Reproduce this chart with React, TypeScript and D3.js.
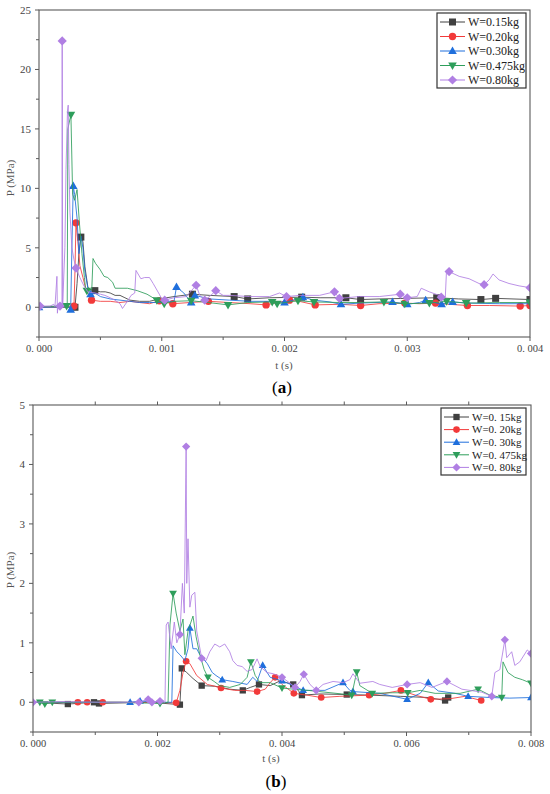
import * as d3 from 'd3';
import { useEffect, useRef } from 'react';

type Pt = [number, number]; // [t (ms), P (MPa)]

// ---------- colores y símbolos (orden de la leyenda) ----------
const colors = ['#404040', '#f23a3a', '#1f6fdc', '#2e9e5b', '#b07fe3'];
const legendA = ['W=0.15kg', 'W=0.20kg', 'W=0.30kg', 'W=0.475kg', 'W=0.80kg'];
const legendB = ['W=0. 15kg', 'W=0. 20kg', 'W=0. 30kg', 'W=0. 475kg', 'W=0. 80kg'];

// ---------- (a) 0 – 0.004 s ----------
const a015: Pt[] = [[0,0],[0.29,0],[0.293,0],[0.31,2],[0.325,4.5],[0.341,5.9],[0.358,5.5],[0.374,3.4],[0.398,1.7],[0.415,1.5],[0.455,1.4],[0.5,1.3],[0.54,1.3],[0.58,1.2],[0.62,1.0],[0.66,1.0],[0.7,0.8],[0.74,0.6],[0.82,0.5],[0.9,0.5],[0.98,0.7],[1.1,0.9],[1.25,1.1],[1.39,1.0],[1.59,0.9],[1.7,0.7],[1.88,0.8],[2.14,0.85],[2.29,0.8],[2.5,0.8],[2.62,0.65],[2.77,0.7],[3.0,0.75],[3.24,0.8],[3.42,0.7],[3.6,0.65],[3.72,0.75],[4.0,0.65]];
const a015m: Pt[] = [[0.293,0],[0.341,5.9],[0.455,1.4],[1.25,1.1],[1.59,0.9],[1.7,0.7],[2.14,0.85],[2.5,0.8],[2.62,0.65],[3.24,0.8],[3.6,0.65],[3.72,0.75],[4.0,0.65]];

const a020: Pt[] = [[0,0.05],[0.28,0.05],[0.285,0.1],[0.293,3],[0.301,7.1],[0.317,5.5],[0.333,3.5],[0.358,2.5],[0.382,1.5],[0.407,1.0],[0.428,0.6],[0.5,0.5],[0.58,0.5],[0.66,0.4],[0.74,0.5],[0.82,0.4],[0.9,0.3],[0.98,0.55],[1.09,0.3],[1.23,0.4],[1.38,0.5],[1.55,0.4],[1.72,0.3],[1.85,0.2],[2.04,0.6],[2.12,0.5],[2.25,0.2],[2.45,0.25],[2.62,0.15],[2.77,0.3],[2.98,0.35],[3.1,0.3],[3.23,0.35],[3.34,0.25],[3.49,0.15],[3.67,0.15],[3.92,0.1],[4.0,0.15]];
const a020m: Pt[] = [[0.285,0.1],[0.301,7.1],[0.428,0.6],[0.98,0.55],[1.09,0.3],[1.38,0.5],[1.85,0.2],[2.04,0.6],[2.25,0.2],[2.62,0.15],[2.98,0.35],[3.23,0.35],[3.49,0.15],[3.92,0.1],[4.0,0.15]];

const a030: Pt[] = [[0,0],[0.2,0.05],[0.255,0],[0.258,-0.2],[0.27,6],[0.279,10.2],[0.29,9.5],[0.31,7.5],[0.325,4.5],[0.341,6],[0.358,5],[0.374,3],[0.4,1.5],[0.42,1.1],[0.455,1.2],[0.5,0.9],[0.58,0.7],[0.66,0.6],[0.74,0.5],[0.82,0.4],[0.9,0.4],[0.98,0.4],[1.06,0.5],[1.1,0.5],[1.12,1.7],[1.18,1.2],[1.24,0.4],[1.27,1.0],[1.39,0.7],[1.55,0.6],[1.72,0.5],[1.88,0.5],[2.0,0.4],[2.15,0.85],[2.24,0.6],[2.37,0.45],[2.46,0.25],[2.61,0.35],[2.88,0.45],[3.0,0.25],[3.1,0.4],[3.15,0.6],[3.22,0.4],[3.28,0.25],[3.37,0.45],[3.5,0.35],[3.75,0.3],[4.0,0.3]];
const a030m: Pt[] = [[0,0],[0.258,-0.2],[0.279,10.2],[0.42,1.1],[1.12,1.7],[1.24,0.4],[1.27,1.0],[2.0,0.4],[2.15,0.85],[2.46,0.25],[2.88,0.45],[3.0,0.25],[3.15,0.6],[3.28,0.25],[3.37,0.45]];

const a0475: Pt[] = [[0,0.05],[0.17,0.1],[0.23,0.1],[0.235,15],[0.26,16.2],[0.274,9.5],[0.29,9.0],[0.31,9.9],[0.33,7],[0.35,4.5],[0.37,2.5],[0.38,1.5],[0.4,1.4],[0.43,1.5],[0.44,4.1],[0.46,3.7],[0.496,3.2],[0.53,2.6],[0.56,2.5],[0.6,2.1],[0.62,1.6],[0.72,1.6],[0.8,1.4],[0.88,1.1],[0.96,0.6],[1.02,0.3],[1.1,0.5],[1.24,0.55],[1.38,0.4],[1.54,0.2],[1.7,0.4],[1.9,0.45],[1.94,0.3],[2.11,0.55],[2.24,0.45],[2.45,0.4],[2.6,0.4],[2.81,0.45],[2.98,0.3],[3.18,0.35],[3.32,0.5],[3.48,0.35],[3.75,0.4],[4.0,0.4]];
const a0475m: Pt[] = [[0.225,0.1],[0.26,16.2],[0.39,1.4],[0.96,0.6],[1.02,0.3],[1.24,0.55],[1.54,0.2],[1.9,0.45],[1.94,0.3],[2.11,0.55],[2.24,0.45],[2.81,0.45],[2.98,0.3],[3.18,0.35],[3.32,0.5],[3.48,0.35],[4.0,0.4]];

const a080: Pt[] = [[0,0.1],[0.09,0.1],[0.12,0.25],[0.13,0.05],[0.146,2.6],[0.15,-0.5],[0.154,0.1],[0.171,0.1],[0.187,0.1],[0.189,22.4],[0.193,0.3],[0.211,5],[0.22,11.6],[0.232,16.5],[0.238,17.0],[0.244,12],[0.252,8],[0.268,5],[0.285,4],[0.301,3.3],[0.333,2.5],[0.366,1.8],[0.398,1.3],[0.455,1.2],[0.5,1.1],[0.537,1.0],[0.58,0.8],[0.618,0.6],[0.66,0.3],[0.68,-0.1],[0.72,0.5],[0.75,1.0],[0.78,1.2],[0.79,3.1],[0.83,2.4],[0.86,2.5],[0.9,2.5],[0.93,2.0],[0.98,1.1],[1.0,0.7],[1.024,0.6],[1.1,0.8],[1.2,0.9],[1.28,1.85],[1.31,1.0],[1.35,0.6],[1.4,1.0],[1.44,1.4],[1.5,1.0],[1.553,1.0],[1.715,0.9],[1.878,0.9],[1.959,1.2],[2.016,0.9],[2.122,1.0],[2.285,1.0],[2.407,1.3],[2.447,0.75],[2.61,0.9],[2.772,0.9],[2.943,1.1],[3.0,0.8],[3.081,0.9],[3.114,1.6],[3.179,1.3],[3.26,1.0],[3.31,0.85],[3.32,3.1],[3.341,3.0],[3.423,2.6],[3.504,2.4],[3.585,2.0],[3.626,1.9],[3.667,2.3],[3.699,2.8],[3.748,2.3],[3.829,2.0],[3.911,1.8],[4.0,1.65]];
const a080m: Pt[] = [[0.008,0.1],[0.171,0.1],[0.189,22.4],[0.301,3.3],[1.024,0.6],[1.28,1.85],[1.35,0.6],[1.44,1.4],[2.016,0.9],[2.407,1.3],[2.447,0.75],[2.943,1.1],[3.0,0.8],[3.277,0.85],[3.341,3.0],[3.626,1.9],[4.0,1.65]];

// ---------- (b) 0 – 0.008 s ----------
const b015: Pt[] = [[0,0],[0.56,-0.03],[0.98,0],[1.06,-0.02],[1.88,0],[2.36,-0.04],[2.39,0.57],[2.47,0.5],[2.57,0.4],[2.71,0.28],[2.92,0.27],[3.16,0.22],[3.37,0.2],[3.49,0.25],[3.63,0.3],[3.81,0.28],[3.97,0.36],[4.18,0.3],[4.32,0.12],[4.61,0.14],[5.04,0.13],[5.41,0.12],[5.9,0.1],[6.35,0.08],[6.62,0.03],[6.67,0.08]];
const b015m: Pt[] = [[0.56,-0.03],[0.98,0],[1.06,-0.02],[2.36,-0.04],[2.39,0.57],[2.71,0.28],[3.37,0.2],[3.63,0.3],[4.18,0.3],[4.32,0.12],[5.04,0.13],[6.62,0.03],[6.67,0.08]];

const b020: Pt[] = [[0,0],[0.72,0],[0.87,0],[1.12,0],[1.88,0],[2.3,-0.01],[2.36,0.2],[2.41,0.5],[2.46,0.69],[2.52,0.65],[2.63,0.45],[2.8,0.3],[2.92,0.27],[3.02,0.24],[3.24,0.2],[3.41,0.2],[3.6,0.18],[3.73,0.22],[3.81,0.33],[3.89,0.42],[4.0,0.3],[4.19,0.15],[4.4,0.12],[4.63,0.08],[4.93,0.1],[5.4,0.12],[5.65,0.15],[5.91,0.2],[6.14,0.12],[6.39,0.05],[6.7,0.06],[6.94,0.1],[7.2,0.03]];
const b020m: Pt[] = [[0.72,0],[0.87,0],[1.12,0],[2.3,-0.01],[2.46,0.69],[3.02,0.24],[3.6,0.18],[3.89,0.42],[4.19,0.15],[4.63,0.08],[5.4,0.12],[5.91,0.2],[6.39,0.05],[7.2,0.03]];

const b030: Pt[] = [[0,0],[1.08,0],[1.56,0],[1.72,0.02],[2.04,0],[2.23,0],[2.25,0.95],[2.31,0.85],[2.36,0.8],[2.44,0.7],[2.49,0.9],[2.52,1.25],[2.57,0.9],[2.63,0.9],[2.68,0.8],[2.8,0.65],[2.88,0.5],[2.94,0.45],[3.04,0.38],[3.21,0.35],[3.44,0.3],[3.53,0.42],[3.6,0.35],[3.69,0.62],[3.81,0.42],[4.0,0.36],[4.18,0.28],[4.34,0.2],[4.69,0.2],[4.98,0.33],[5.09,0.2],[5.14,0.18],[5.57,0.15],[6.01,0.05],[6.22,0.15],[6.35,0.33],[6.51,0.19],[6.78,0.15],[6.99,0.1],[7.34,0.08],[7.66,0.07],[8.0,0.08]];
const b030m: Pt[] = [[1.56,0],[1.72,0.02],[2.52,1.25],[3.04,0.38],[3.69,0.62],[4.0,0.36],[4.34,0.2],[4.98,0.33],[5.14,0.18],[6.01,0.05],[6.35,0.33],[6.99,0.1],[8.0,0.08]];

const b0475: Pt[] = [[0,0],[0.11,0],[0.19,-0.03],[0.31,0],[0.76,0],[1.4,0],[2.04,-0.02],[2.17,0],[2.2,1.3],[2.25,1.83],[2.3,1.5],[2.36,1.2],[2.41,1.4],[2.44,0.8],[2.49,1.2],[2.57,1.45],[2.62,1.1],[2.68,0.8],[2.75,0.55],[2.81,0.42],[2.91,0.35],[3.0,0.28],[3.16,0.25],[3.33,0.3],[3.44,0.42],[3.5,0.68],[3.57,0.45],[3.65,0.33],[3.81,0.33],[4.0,0.24],[4.18,0.22],[4.42,0.2],[4.69,0.17],[4.96,0.14],[5.12,0.12],[5.2,0.51],[5.25,0.28],[5.45,0.15],[5.77,0.16],[6.02,0.16],[6.22,0.2],[6.46,0.15],[6.86,0.15],[7.15,0.22],[7.34,0.12],[7.53,0.08],[7.55,0.68],[7.63,0.5],[7.74,0.42],[7.86,0.38],[8.0,0.32]];
const b0475m: Pt[] = [[0.11,0],[0.19,-0.03],[0.31,0],[2.04,-0.02],[2.25,1.83],[2.81,0.42],[3.5,0.68],[4.0,0.24],[5.12,0.12],[5.2,0.51],[5.45,0.15],[6.02,0.16],[7.15,0.22],[7.53,0.08],[8.0,0.32]];

const b080: Pt[] = [[0,0],[0.43,0.01],[1.08,0],[1.7,0],[1.85,0.05],[1.91,0],[2.04,0.02],[2.12,0],[2.14,1.3],[2.17,1.35],[2.22,0.9],[2.27,1.35],[2.31,1.0],[2.36,1.14],[2.4,2.0],[2.43,1.5],[2.46,4.3],[2.47,2.0],[2.49,2.75],[2.52,1.6],[2.55,1.8],[2.6,1.85],[2.63,1.2],[2.71,0.74],[2.78,0.7],[2.84,0.85],[2.92,0.98],[3.0,0.93],[3.08,0.98],[3.16,0.85],[3.21,0.7],[3.28,0.62],[3.36,0.6],[3.44,0.52],[3.52,0.55],[3.6,0.73],[3.65,0.6],[3.76,0.5],[3.86,0.48],[4.0,0.42],[4.13,0.32],[4.21,0.25],[4.29,0.35],[4.35,0.47],[4.45,0.3],[4.55,0.2],[4.66,0.3],[4.82,0.35],[4.98,0.33],[5.09,0.38],[5.14,0.48],[5.25,0.32],[5.46,0.35],[5.57,0.3],[5.77,0.25],[6.01,0.3],[6.22,0.33],[6.41,0.25],[6.65,0.35],[6.89,0.22],[7.21,0.17],[7.37,0.1],[7.42,0.5],[7.5,0.55],[7.58,1.05],[7.61,0.75],[7.69,0.85],[7.74,0.62],[7.82,0.68],[7.94,0.88],[8.0,0.82]];
const b080m: Pt[] = [[0,0],[1.7,0],[1.85,0.05],[1.91,0],[2.04,0.02],[2.36,1.14],[2.46,4.3],[2.71,0.74],[4.0,0.42],[4.21,0.25],[4.35,0.47],[4.55,0.2],[6.01,0.3],[6.65,0.35],[7.37,0.1],[7.58,1.05],[8.0,0.82]];

const linesA = [a015, a020, a030, a0475, a080];
const marksA = [a015m, a020m, a030m, a0475m, a080m];
const linesB = [b015, b020, b030, b0475, b080];
const marksB = [b015m, b020m, b030m, b0475m, b080m];

type Panel = {
  id: string;
  left: number; right: number; top: number; bottom: number;
  xMax: number; xMajor: number[]; xMinor: number[];
  yMin: number; yMax: number; yMajor: number[]; yMinor: number[];
  lines: Pt[][]; marks: Pt[][]; names: string[];
  legend: { x0: number; x1: number; y0: number; y1: number; row0: number; step: number; font: number };
  topTicks: number[];
  markSize: number;
  xTitleX: number; xTitleY: number; yTitleY: number; tag: string; tagY: number; tagX: number;
};

const range = (a: number, b: number, s: number) => d3.range(a, b + s / 2, s);

const panels: Panel[] = [
  {
    id: 'a', left: 39, right: 530, top: 10, bottom: 337,
    xMax: 4, xMajor: range(0, 4, 1), xMinor: range(0.5, 3.5, 1),
    yMin: -2.5, yMax: 25, yMajor: range(0, 25, 5), yMinor: range(-2.5, 22.5, 5),
    lines: linesA, marks: marksA, names: legendA,
    legend: { x0: 437, x1: 526, y0: 13, y1: 88, row0: 22, step: 14.5, font: 12 },
    topTicks: [], markSize: 1,
    xTitleX: 284, xTitleY: 369, yTitleY: 178, tag: 'a', tagY: 393, tagX: 282,
  },
  {
    id: 'b', left: 33, right: 531, top: 405, bottom: 732,
    xMax: 8, xMajor: range(0, 8, 2), xMinor: range(1, 7, 2),
    yMin: -0.5, yMax: 5, yMajor: range(0, 5, 1), yMinor: range(-0.5, 4.5, 1),
    lines: linesB, marks: marksB, names: legendB,
    legend: { x0: 441, x1: 526, y0: 408, y1: 475, row0: 417, step: 12.6, font: 11 },
    topTicks: range(1, 7, 1), markSize: 0.9,
    xTitleX: 271, xTitleY: 762, yTitleY: 570, tag: 'b', tagY: 787, tagX: 276,
  },
];

const axisColor = '#5a5a5a';
const font = '"Liberation Serif", "DejaVu Serif", serif';

function drawMarker(g: d3.Selection<SVGGElement, unknown, null, undefined>, i: number, x: number, y: number, k: number) {
  const c = colors[i];
  if (i === 0) {
    const s = 7 * k;
    g.append('rect').attr('x', x - s / 2).attr('y', y - s / 2).attr('width', s).attr('height', s).attr('fill', c);
  } else if (i === 1) {
    g.append('circle').attr('cx', x).attr('cy', y).attr('r', 3.7 * k).attr('fill', c);
  } else if (i === 2 || i === 3) {
    const h = 7.5 * k, w = 8.6 * k;
    const dir = i === 2 ? 1 : -1;
    const pts = [[x, y - dir * h * 0.6], [x - w / 2, y + dir * h * 0.4], [x + w / 2, y + dir * h * 0.4]];
    g.append('path').attr('d', 'M' + pts.map(p => p.join(',')).join('L') + 'Z').attr('fill', c);
  } else {
    const r = 4.6 * k;
    g.append('path').attr('d', `M${x},${y - r}L${x + r},${y}L${x},${y + r}L${x - r},${y}Z`).attr('fill', c);
  }
}

export default function App() {
  const svgRef = useRef<SVGSVGElement | null>(null);

  useEffect(() => {
    if (!svgRef.current) return;
    const svg = d3.select(svgRef.current);
    svg.selectAll('*').remove();
    svg.append('rect').attr('width', 550).attr('height', 794).attr('fill', '#fff');
    const defs = svg.append('defs');

    panels.forEach(p => {
      const x = d3.scaleLinear().domain([0, p.xMax]).range([p.left, p.right]);
      const y = d3.scaleLinear().domain([p.yMin, p.yMax]).range([p.bottom, p.top]);
      const g = svg.append('g').attr('font-family', font);

      defs.append('clipPath').attr('id', 'clip-' + p.id)
        .append('rect').attr('x', p.left).attr('y', p.top).attr('width', p.right - p.left).attr('height', p.bottom - p.top);

      // series lines + markers
      const line = d3.line<Pt>().x(d => x(d[0])).y(d => y(d[1]));
      const plot = g.append('g').attr('clip-path', `url(#clip-${p.id})`);
      p.lines.forEach((data, i) => {
        const sg = plot.append('g');
        sg.append('path').datum(data).attr('d', line).attr('fill', 'none')
          .attr('stroke', colors[i]).attr('stroke-width', 1).attr('stroke-opacity', 0.85)
          .attr('stroke-linejoin', 'round');
        p.marks[i].forEach(d => drawMarker(sg, i, x(d[0]), y(d[1]), p.markSize));
      });

      // frame
      g.append('rect').attr('x', p.left).attr('y', p.top).attr('width', p.right - p.left).attr('height', p.bottom - p.top)
        .attr('fill', 'none').attr('stroke', axisColor).attr('stroke-width', 1.1);

      // x ticks
      p.xMajor.forEach(v => {
        g.append('line').attr('x1', x(v)).attr('x2', x(v)).attr('y1', p.bottom).attr('y2', p.bottom + 4).attr('stroke', axisColor);
        g.append('text').attr('x', x(v)).attr('y', p.bottom + 15).attr('text-anchor', 'middle')
          .attr('font-size', 10.5).attr('fill', '#444')
          .text(d3.format('.3f')(v / 1000).replace('.', '. '));
      });
      p.xMinor.forEach(v => {
        g.append('line').attr('x1', x(v)).attr('x2', x(v)).attr('y1', p.bottom).attr('y2', p.bottom + 3).attr('stroke', axisColor);
      });
      p.topTicks.forEach(v => {
        g.append('line').attr('x1', x(v)).attr('x2', x(v)).attr('y1', p.top).attr('y2', p.top - 3.5).attr('stroke', axisColor);
      });

      // y ticks
      p.yMajor.forEach(v => {
        g.append('line').attr('x1', p.left - 4).attr('x2', p.left).attr('y1', y(v)).attr('y2', y(v)).attr('stroke', axisColor);
        g.append('text').attr('x', p.left - 8).attr('y', y(v)).attr('dy', '0.35em').attr('text-anchor', 'end')
          .attr('font-size', 11).attr('fill', '#444').text(String(v));
      });
      p.yMinor.forEach(v => {
        g.append('line').attr('x1', p.left - 3).attr('x2', p.left).attr('y1', y(v)).attr('y2', y(v)).attr('stroke', axisColor);
      });

      // titles
      g.append('text').attr('x', p.xTitleX).attr('y', p.xTitleY).attr('text-anchor', 'middle')
        .attr('font-size', 11).attr('fill', '#555').text('t (s)');
      g.append('text').attr('transform', `translate(14,${p.yTitleY}) rotate(-90)`).attr('text-anchor', 'middle')
        .attr('font-size', 11).attr('fill', '#555').text('P (MPa)');

      const tag = g.append('text').attr('x', p.tagX).attr('y', p.tagY).attr('text-anchor', 'middle')
        .attr('font-size', 17).attr('fill', '#000');
      tag.append('tspan').text('(');
      tag.append('tspan').attr('font-weight', 'bold').text(p.tag);
      tag.append('tspan').text(')');

      // legend
      const L = p.legend;
      g.append('rect').attr('x', L.x0).attr('y', L.y0).attr('width', L.x1 - L.x0).attr('height', L.y1 - L.y0)
        .attr('fill', '#fff').attr('stroke', '#333').attr('stroke-width', 1.2);
      p.names.forEach((name, i) => {
        const ry = L.row0 + i * L.step;
        const lg = g.append('g');
        lg.append('line').attr('x1', L.x0 + 3).attr('x2', L.x0 + 28).attr('y1', ry).attr('y2', ry)
          .attr('stroke', colors[i]).attr('stroke-width', 1);
        drawMarker(lg, i, L.x0 + 15.5, ry, p.markSize);
        lg.append('text').attr('x', L.x0 + 31).attr('y', ry).attr('dy', '0.35em')
          .attr('font-size', L.font).attr('fill', '#222').text(name);
      });
    });
  }, []);

  return (
    <svg ref={svgRef} width={550} height={794} style={{ position: 'absolute', left: 0, top: 0 }} />
  );
}
